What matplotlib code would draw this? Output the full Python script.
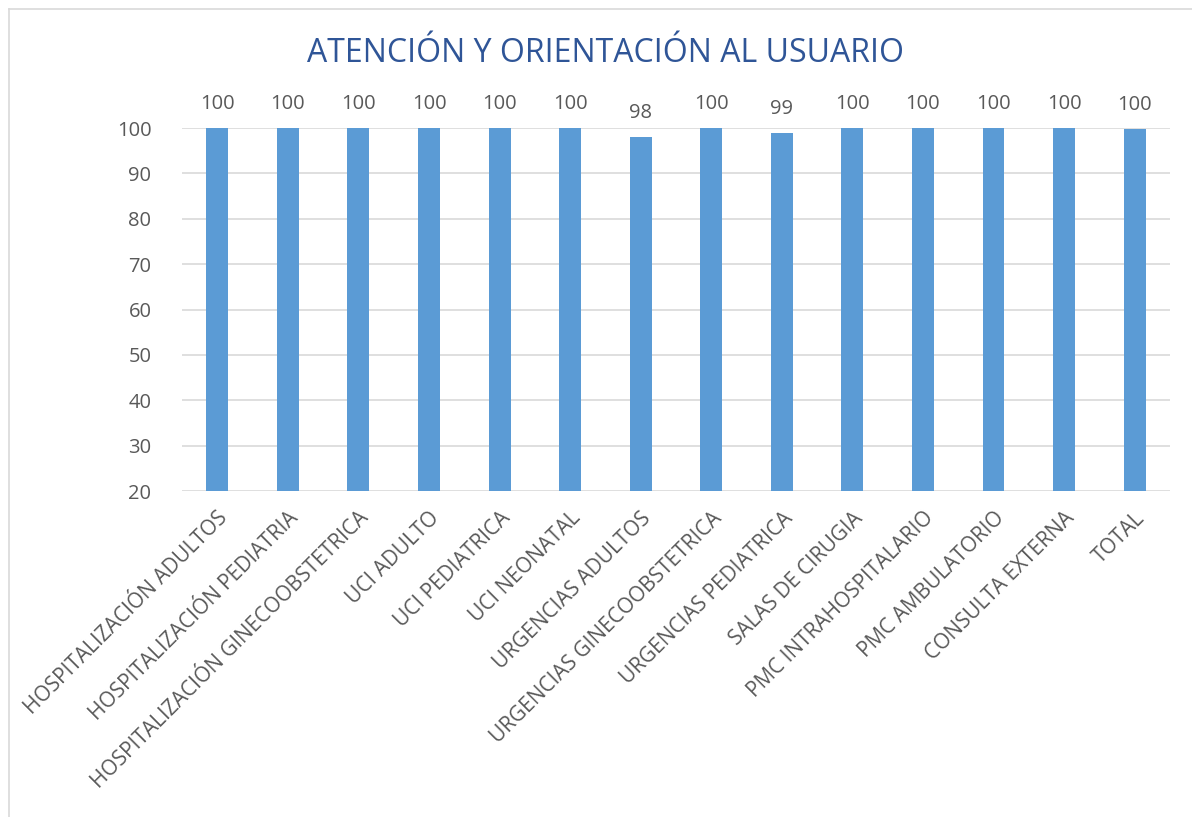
import matplotlib
matplotlib.use("Agg")
import matplotlib.pyplot as plt
from matplotlib.lines import Line2D

plt.rcParams['font.family'] = ['Open Sans', 'DejaVu Sans']

# datos del grafico
categorias = ["HOSPITALIZACIÓN ADULTOS", "HOSPITALIZACIÓN PEDIATRIA",
              "HOSPITALIZACIÓN GINECOOBSTETRICA", "UCI ADULTO", "UCI PEDIATRICA",
              "UCI NEONATAL", "URGENCIAS ADULTOS", "URGENCIAS GINECOOBSTETRICA",
              "URGENCIAS PEDIATRICA", "SALAS DE CIRUGIA", "PMC INTRAHOSPITALARIO",
              "PMC AMBULATORIO", "CONSULTA EXTERNA", "TOTAL"]
valores = [100, 100, 100, 100, 100, 100, 98, 100, 99, 100, 100, 100, 100, 99.8]
etiquetas = ["100", "100", "100", "100", "100", "100", "98", "100", "99",
             "100", "100", "100", "100", "100"]
yticks = [20, 30, 40, 50, 60, 70, 80, 90, 100]

color_barra = "#5B9BD5"
color_texto = "#595959"

fig = plt.figure(figsize=(11.92, 8.17), dpi=100)
ax = fig.add_axes([0.1527, 0.399, 0.9815 - 0.1527, 0.8433 - 0.399])

x = range(len(categorias))
barras = ax.bar(x, valores, width=0.31, color=color_barra, zorder=3)

for b, lab in zip(barras, etiquetas):
    ax.annotate(lab, (b.get_x() + b.get_width() / 2, b.get_height()),
                xytext=(0, 10), textcoords="offset points", ha="center", va="bottom",
                fontsize=14.5, color=color_texto, annotation_clip=False)

ax.set_ylim(20, 100)
ax.set_xlim(-0.5, len(categorias) - 0.5)
ax.set_yticks(yticks)
ax.yaxis.grid(True, color="#D9D9D9", linewidth=1.2, zorder=0)
ax.tick_params(axis="y", length=0, labelsize=14.5, labelcolor=color_texto, pad=22)
ax.tick_params(axis="x", length=0, labelsize=15, labelcolor=color_texto, pad=12)
ax.set_xticks(list(x))
ax.set_xticklabels(categorias, rotation=45, ha="right", rotation_mode="anchor")
for s in ax.spines.values():
    s.set_visible(False)

fig.text(0.508, 0.934, "ATENCIÓN Y ORIENTACIÓN AL USUARIO", ha="center", va="center",
         fontsize=23, color="#2F5597")

# borde del area del grafico
fig.add_artist(Line2D([9 / 1192, 9 / 1192], [0, 1 - 9 / 817], color="#D9D9D9", lw=1.2))
fig.add_artist(Line2D([9 / 1192, 1], [1 - 9 / 817, 1 - 9 / 817], color="#D9D9D9", lw=1.2))

fig.savefig("out.png", dpi=100, facecolor="white")
